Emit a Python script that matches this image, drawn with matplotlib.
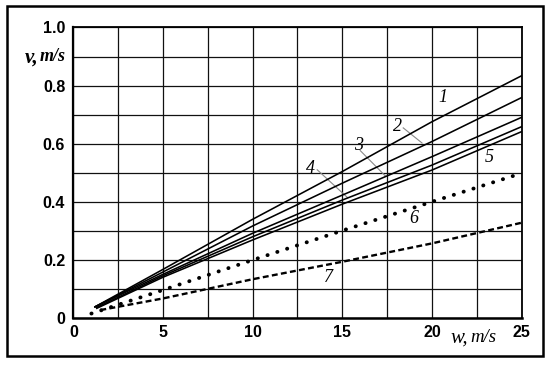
import numpy as np
import matplotlib.pyplot as plt
from matplotlib.patches import Rectangle

# values (w in m/s, v in m/s)
w1 = [1.2, 5, 10, 15, 20, 25]
v1 = [0.040, 0.169, 0.341, 0.505, 0.676, 0.834]
w2 = [1.2, 5, 10, 15, 20, 25]
v2 = [0.040, 0.160, 0.318, 0.465, 0.608, 0.759]
w3 = [1.2, 5, 10, 15, 20, 25]
v3 = [0.040, 0.152, 0.293, 0.424, 0.556, 0.691]
w4 = [1.3, 5, 10, 15, 20, 25]
v4 = [0.038, 0.147, 0.281, 0.407, 0.527, 0.659]
w5 = [1.3, 5, 10, 15, 20, 25]
v5 = [0.035, 0.142, 0.270, 0.393, 0.510, 0.642]
w6 = [1.0, 5, 10, 15, 20, 25]
v6 = [0.017, 0.098, 0.201, 0.302, 0.401, 0.499]
w7 = [1.5, 5, 10, 15, 20, 25]
v7 = [0.029, 0.069, 0.135, 0.195, 0.258, 0.329]

xticks = [0, 5, 10, 15, 20, 25]
xlabels = ["0", "5", "10", "15", "20", "25"]
yticks = [0, 0.2, 0.4, 0.6, 0.8, 1.0]
ylabels = ["0", "0.2", "0.4", "0.6", "0.8", "1.0"]

# curve labels: (text, w, v)
labels = [("1", 20.6, 0.76), ("2", 18.1, 0.66), ("3", 15.9, 0.595),
          ("4", 13.2, 0.515), ("5", 23.2, 0.552), ("6", 19.0, 0.344),
          ("7", 14.2, 0.142)]
# leader lines from label to curve
leaders = [((18.4, 0.655), (19.45, 0.603)),
           ((16.0, 0.577), (17.4, 0.49)),
           ((13.6, 0.511), (15.3, 0.415))]

fig = plt.figure(figsize=(5.5, 3.65), dpi=100)
fig.patches.append(Rectangle((0.0127, 0.0247), 0.9743, 0.959,
                             transform=fig.transFigure, fill=False,
                             edgecolor='k', lw=1.8))
ax = fig.add_axes([0.1336, 0.1274, 0.8146, 0.7973])

line_opts = {"color": "k", "lw": 1.15, "zorder": 3}
for w, v in [(w1, v1), (w2, v2), (w3, v3), (w4, v4), (w5, v5)]:
    ax.plot(w, v, **line_opts)
ax.plot(w6, v6, color='k', lw=2.8, linestyle=(0, (0.05, 2.6)),
        dash_capstyle='round', zorder=3)
ax.plot(w7, v7, color='k', lw=1.7, linestyle=(0, (2.5, 1.4)), zorder=3)

for txt, x, y in labels:
    ax.text(x, y, txt, family='Liberation Serif', style='italic',
            fontsize=13, ha='center', va='center', zorder=4)
for (x0, y0), (x1, y1) in leaders:
    ax.plot([x0, x1], [y0, y1], color='#888888', lw=0.8, zorder=2)

ax.set_xlim(0, 25)
ax.set_ylim(0, 1.0)
ax.set_xticks(xticks)
ax.set_xticklabels(xlabels)
ax.set_yticks(yticks)
ax.set_yticklabels(ylabels)
ax.set_xticks(np.arange(0, 25.1, 2.5), minor=True)
ax.set_yticks(np.arange(0, 1.01, 0.1), minor=True)
ax.grid(which='both', color='#111111', lw=0.9)
ax.tick_params(which='both', length=0)
ax.tick_params(axis='y', pad=6)
ax.tick_params(axis='x', pad=5)
for lab in ax.get_xticklabels() + ax.get_yticklabels():
    lab.set_family('Liberation Sans')
    lab.set_fontweight('bold')
    lab.set_fontsize(11.5)
for sp in ax.spines.values():
    sp.set_linewidth(1.3)
ax.spines['bottom'].set_linewidth(1.8)
ax.spines['left'].set_linewidth(1.6)

# axis captions
ax.text(-1.95, 0.897, "v,", family='Liberation Serif', style='italic',
        fontweight='bold', fontsize=15, ha='right', va='center',
        clip_on=False)
ax.text(-0.45, 0.9, "m/s", family='Liberation Serif', style='italic',
        fontweight='bold', fontsize=13, ha='right', va='center',
        clip_on=False)
ax.text(22.0, -0.066, "w,", family='Liberation Serif', style='italic',
        fontsize=15, ha='right', va='center', clip_on=False)
ax.text(22.15, -0.066, "m/s", family='Liberation Serif', style='italic',
        fontsize=13.5, ha='left', va='center', clip_on=False)

fig.savefig("out.png", dpi=100)
